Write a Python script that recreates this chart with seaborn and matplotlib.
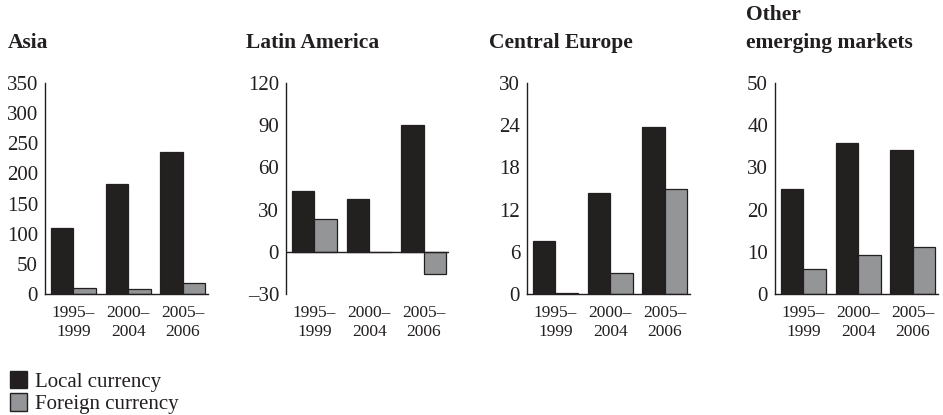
import numpy as np
import pandas as pd
import matplotlib
matplotlib.use("Agg")
import matplotlib.pyplot as plt
import seaborn as sns
from matplotlib.patches import Patch

# ==========================
# data
# ==========================
periods = ["1995–\n1999", "2000–\n2004", "2005–\n2006"]
series = ["Local currency", "Foreign currency"]

asia_local = [109, 182, 235]
asia_foreign = [10.5, 8.5, 18]
latam_local = [43.5, 37.5, 90]
latam_foreign = [23.5, 0, -15.5]
ceurope_local = [7.5, 14.3, 23.8]
ceurope_foreign = [0.2, 3.0, 14.9]
other_local = [24.9, 35.8, 34.2]
other_foreign = [6.0, 9.3, 11.1]

titles = ["Asia", "Latin America", "Central Europe", "Other\nemerging markets"]
yticks = [np.arange(0, 351, 50), np.arange(-30, 121, 30),
          np.arange(0, 31, 6), np.arange(0, 51, 10)]

panels = [(asia_local, asia_foreign), (latam_local, latam_foreign),
          (ceurope_local, ceurope_foreign), (other_local, other_foreign)]

DARK = "#231f20"
GRAY = "#939598"

sns.set_style("white")
plt.rcParams["font.family"] = ["Liberation Serif", "DejaVu Serif"]

fig = plt.figure(figsize=(9.43, 4.15), dpi=100)

lefts = [45, 286, 527, 775]
title_x = [8, 246, 489, 746]
W, H = 943, 415

for i, (loc, fgn) in enumerate(panels):
    ax = fig.add_axes([lefts[i] / W, 1 - 294 / H, 163 / W, 211 / H])
    df = pd.DataFrame({
        "period": periods * 2,
        "value": loc + fgn,
        "currency": [series[0]] * 3 + [series[1]] * 3,
    })
    sns.barplot(data=df, x="period", y="value", hue="currency",
                palette=[DARK, GRAY], width=0.82, gap=0,
                edgecolor=DARK, linewidth=0.9, legend=False, ax=ax)
    ax.set_xlim(-0.52, 2.46)
    yt = yticks[i]
    ax.set_ylim(yt[0], yt[-1])
    ax.set_yticks(yt)
    ax.set_yticklabels([f"{v:d}".replace("-", "–") for v in yt])
    ax.set_xlabel("")
    ax.set_ylabel("")
    ax.tick_params(axis="y", length=0, pad=5, labelsize=15, colors=DARK)
    ax.tick_params(axis="x", length=0, pad=8, labelsize=12.5, colors=DARK)
    for lab in ax.get_xticklabels():
        lab.set_linespacing(1.2)
    sns.despine(ax=ax)
    ax.spines["left"].set_color(DARK)
    ax.spines["left"].set_linewidth(1.0)
    if yt[0] < 0:
        ax.spines["bottom"].set_visible(False)
        ax.axhline(0, color=DARK, lw=1.0)
    else:
        ax.spines["bottom"].set_color(DARK)
        ax.spines["bottom"].set_linewidth(1.0)

    fig.text(title_x[i] / W, 1 - 48 / H, titles[i], fontsize=15.5,
             fontweight="bold", color=DARK, ha="left", va="baseline",
             linespacing=1.55)

handles = [Patch(facecolor=DARK, edgecolor=DARK, label=series[0]),
           Patch(facecolor=GRAY, edgecolor=DARK, label=series[1])]
fig.legend(handles=handles, loc="upper left", bbox_to_anchor=(-0.003, 1 - 358 / H),
           frameon=False, fontsize=15, handlelength=0.85, handleheight=0.95,
           handletextpad=0.35, labelspacing=0.05, borderaxespad=0.2,
           labelcolor=DARK)

fig.savefig("out.png", dpi=100)
